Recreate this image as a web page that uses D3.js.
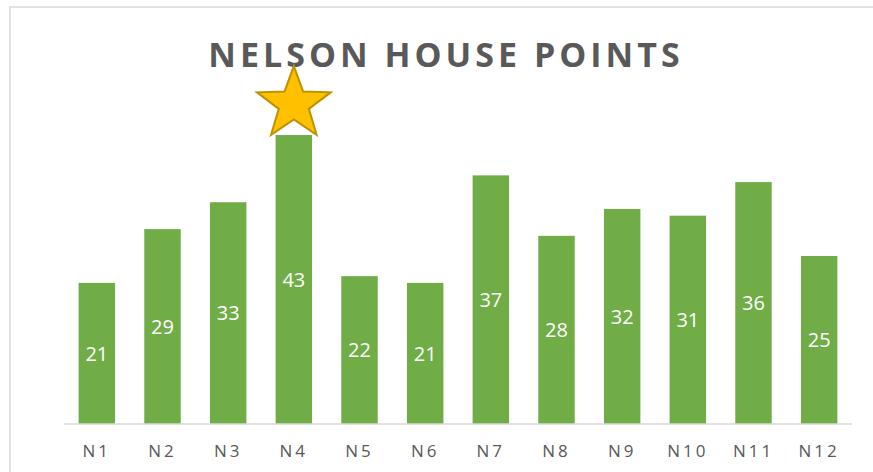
<!DOCTYPE html>
<html><head><meta charset="utf-8">
<script src="https://cdn.jsdelivr.net/npm/d3@7"></script>
<style>html,body{margin:0;padding:0;background:#fff;}svg{display:block;}</style>
</head><body>
<svg id="chart" width="873" height="472"></svg>
<script>
const categories = ["N1","N2","N3","N4","N5","N6","N7","N8","N9","N10","N11","N12"];
const points = [21,29,33,43,22,21,37,28,32,31,36,25];
const title = "NELSON HOUSE POINTS";
const starCategory = "N4";

const W = 873, H = 472;
const svg = d3.select("#chart");

// chart area border (top + left visible)
svg.append("path").attr("d", `M10,${H} L10,7 L${W},7`)
  .attr("fill","none").attr("stroke","#d9d9d9").attr("stroke-width",1.5);

const x = d3.scaleBand().domain(categories).range([64, 852]).paddingInner(0.445).paddingOuter(0.2225);
const y = d3.scaleLinear().domain([0, 50]).range([424, 88]);

svg.append("text").attr("x", 446).attr("y", 67)
  .attr("text-anchor","middle")
  .style("font-family","'Open Sans', sans-serif").style("font-weight","bold")
  .style("font-size","34px").style("letter-spacing","4px")
  .attr("fill","#595959").text(title);

svg.selectAll("rect.bar").data(points).join("rect").attr("class","bar")
  .attr("x",(d,i)=>x(categories[i])).attr("width",x.bandwidth())
  .attr("y",d=>y(d)).attr("height",d=>y(0)-y(d)).attr("fill","#70AD47");

// axis
const ax = svg.append("g").attr("transform","translate(0,424)")
  .call(d3.axisBottom(x).tickSize(0).tickPadding(21));
ax.select(".domain").attr("stroke","#d9d9d9").attr("stroke-width",1.5).attr("d","M64,0H852");
ax.selectAll("text").attr("fill","#595959")
  .style("font-family","'Open Sans', sans-serif").style("font-size","17px").style("letter-spacing","3px");

svg.selectAll("text.lbl").data(points).join("text").attr("class","lbl")
  .attr("x",(d,i)=>x(categories[i])+x.bandwidth()/2)
  .attr("y",d=>(y(d)+y(0))/2).attr("dy","0.36em")
  .attr("text-anchor","middle").attr("fill","#fff")
  .style("font-family","'Open Sans', sans-serif").style("font-size","20px")
  .text(d=>d);

// star above the top category
const si = categories.indexOf(starCategory);
const cx = x(starCategory)+x.bandwidth()/2, cy = y(points[si]) - 31;
const R = 38, r = 15.5;
const pts = d3.range(10).map(k=>{
  const a = -Math.PI/2 + k*Math.PI/5;
  const rr = k%2===0 ? R : r;
  return [cx + rr*Math.cos(a)*1.02, cy + rr*Math.sin(a)];
});
svg.append("polygon").attr("points", pts.map(p=>p.join(",")).join(" "))
  .attr("fill","#FFC000").attr("stroke","#BF9000").attr("stroke-width",2).attr("stroke-linejoin","miter");
</script>
</body></html>
